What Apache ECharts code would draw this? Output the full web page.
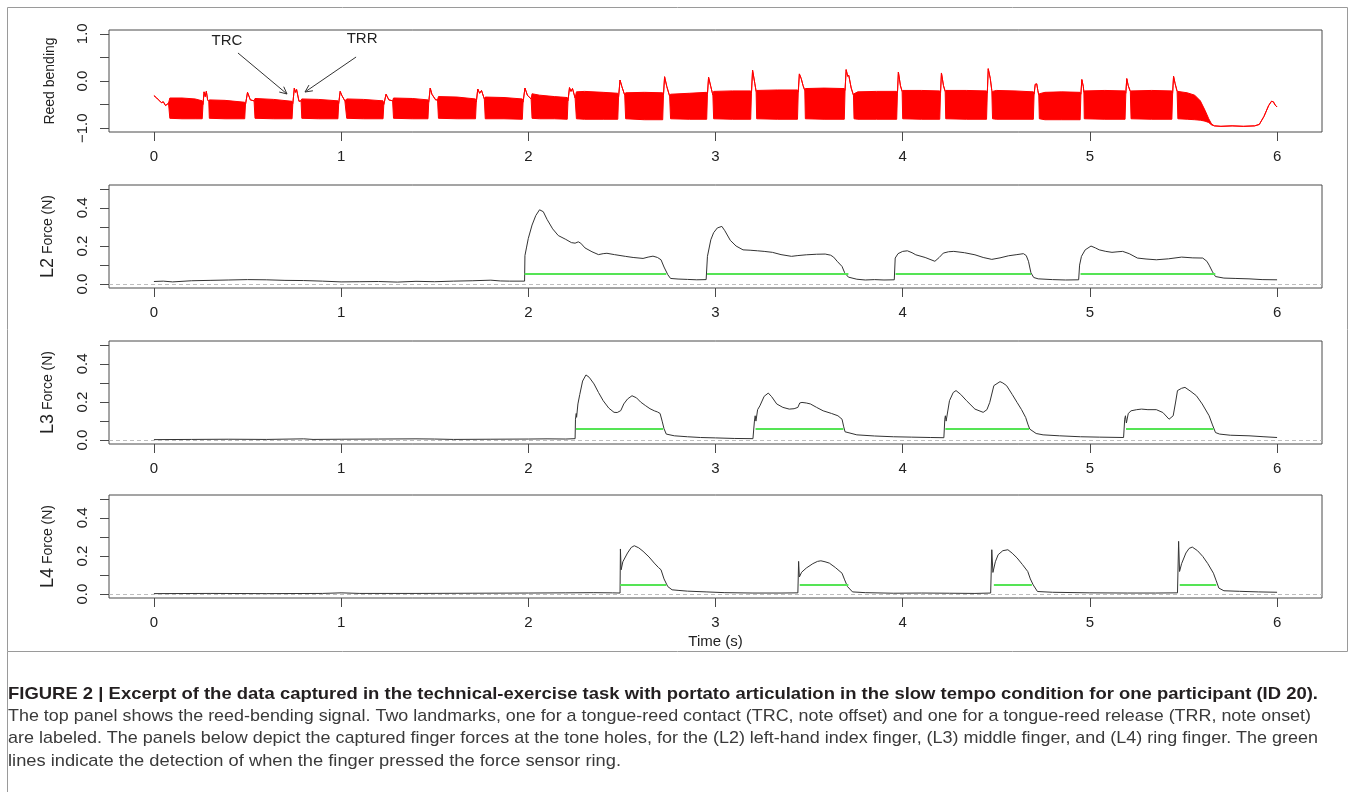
<!DOCTYPE html>
<html>
<head>
<meta charset="utf-8">
<script src="https://cdn.jsdelivr.net/npm/echarts@6/dist/echarts.min.js"></script>
<style>
html,body{margin:0;padding:0;background:#fff;}
#chart{width:1355px;height:792px;}
</style>
</head>
<body>
<div id="chart"></div>
<script>
// ---------------- DATA ----------------
const timeTicks = [0, 1, 2, 3, 4, 5, 6];
const reedTicks = [-1, -0.5, 0, 0.5, 1];
const reedLabels = [-1, 0, 1];
const forceTicks = [0, 0.1, 0.2, 0.3, 0.4, 0.5];
const forceLabels = [0, 0.2, 0.4];

// reed-bending envelope: [time, upper, lower]
const reedBand = [
[0.000,-0.31,-0.31],[0.015,-0.36,-0.36],[0.030,-0.42,-0.42],[0.040,-0.46,-0.46],[0.050,-0.44,-0.44],[0.062,-0.52,-0.52],[0.078,-0.47,-0.47],
[0.085,-0.36,-0.79],[0.150,-0.36,-0.80],[0.220,-0.38,-0.80],[0.258,-0.42,-0.80],
[0.262,-0.50,-0.50],[0.268,-0.23,-0.23],[0.274,-0.33,-0.33],[0.280,-0.22,-0.22],[0.287,-0.40,-0.40],[0.293,-0.43,-0.43],
[0.296,-0.40,-0.79],[0.380,-0.41,-0.80],[0.485,-0.45,-0.80],
[0.489,-0.50,-0.50],[0.500,-0.24,-0.24],[0.515,-0.40,-0.40],[0.535,-0.42,-0.42],
[0.540,-0.37,-0.79],[0.640,-0.39,-0.80],[0.738,-0.43,-0.80],
[0.742,-0.48,-0.48],[0.750,-0.15,-0.15],[0.756,-0.24,-0.24],[0.762,-0.18,-0.18],[0.775,-0.43,-0.43],[0.786,-0.42,-0.42],
[0.790,-0.38,-0.79],[0.880,-0.39,-0.80],[0.983,-0.42,-0.80],
[0.987,-0.48,-0.48],[0.995,-0.22,-0.22],[1.003,-0.30,-0.30],[1.020,-0.42,-0.42],
[1.030,-0.38,-0.79],[1.120,-0.39,-0.80],[1.224,-0.42,-0.80],
[1.228,-0.50,-0.50],[1.240,-0.28,-0.28],[1.255,-0.40,-0.40],[1.275,-0.42,-0.42],
[1.280,-0.36,-0.79],[1.380,-0.37,-0.80],[1.464,-0.40,-0.80],
[1.468,-0.45,-0.45],[1.476,-0.15,-0.15],[1.485,-0.28,-0.28],[1.505,-0.40,-0.40],[1.515,-0.40,-0.40],
[1.520,-0.33,-0.79],[1.620,-0.34,-0.80],[1.718,-0.38,-0.80],
[1.722,-0.45,-0.45],[1.730,-0.17,-0.17],[1.740,-0.26,-0.26],[1.750,-0.20,-0.20],[1.765,-0.38,-0.38],
[1.770,-0.34,-0.80],[1.870,-0.35,-0.80],[1.968,-0.38,-0.81],
[1.972,-0.45,-0.45],[1.982,-0.15,-0.15],[1.995,-0.30,-0.30],[2.015,-0.38,-0.38],
[2.020,-0.27,-0.79],[2.060,-0.30,-0.80],[2.140,-0.33,-0.80],[2.208,-0.35,-0.81],
[2.212,-0.42,-0.42],[2.220,-0.14,-0.14],[2.228,-0.22,-0.22],[2.236,-0.16,-0.16],[2.250,-0.36,-0.36],
[2.257,-0.23,-0.80],[2.300,-0.22,-0.81],[2.400,-0.24,-0.81],[2.478,-0.26,-0.81],
[2.482,-0.35,-0.35],[2.490,0.02,0.02],[2.500,-0.12,-0.12],[2.515,-0.30,-0.30],
[2.520,-0.25,-0.80],[2.620,-0.24,-0.82],[2.718,-0.25,-0.82],
[2.722,-0.30,-0.30],[2.728,0.09,0.09],[2.740,-0.12,-0.12],[2.755,-0.32,-0.32],
[2.760,-0.28,-0.80],[2.860,-0.26,-0.81],[2.953,-0.24,-0.81],
[2.957,-0.28,-0.28],[2.963,0.08,0.08],[2.975,-0.12,-0.12],[2.986,-0.30,-0.30],
[2.990,-0.22,-0.80],[3.090,-0.21,-0.81],[3.188,-0.21,-0.81],
[3.192,-0.26,-0.26],[3.198,0.23,0.23],[3.210,-0.05,-0.05],[3.217,-0.22,-0.22],
[3.220,-0.20,-0.80],[3.330,-0.19,-0.81],[3.438,-0.19,-0.81],
[3.442,-0.24,-0.24],[3.448,0.15,0.15],[3.458,0.05,0.05],[3.468,-0.10,-0.10],[3.477,-0.20,-0.20],
[3.480,-0.16,-0.80],[3.580,-0.15,-0.81],[3.688,-0.16,-0.81],
[3.692,-0.20,-0.20],[3.698,0.24,0.24],[3.706,0.10,0.10],[3.712,0.12,0.12],[3.725,-0.15,-0.15],[3.737,-0.30,-0.30],
[3.740,-0.27,-0.80],[3.760,-0.23,-0.81],[3.860,-0.22,-0.81],[3.968,-0.22,-0.81],
[3.972,-0.26,-0.26],[3.977,0.19,0.19],[3.988,-0.10,-0.10],[3.997,-0.22,-0.22],
[4.000,-0.20,-0.80],[4.100,-0.20,-0.81],[4.198,-0.21,-0.81],
[4.202,-0.26,-0.26],[4.207,0.17,0.17],[4.218,-0.10,-0.10],[4.227,-0.22,-0.22],
[4.230,-0.20,-0.80],[4.340,-0.20,-0.81],[4.448,-0.21,-0.81],
[4.452,-0.26,-0.26],[4.457,0.26,0.26],[4.468,0.05,0.05],[4.476,-0.20,-0.20],
[4.480,-0.22,-0.80],[4.500,-0.20,-0.81],[4.600,-0.21,-0.81],[4.698,-0.23,-0.81],
[4.702,-0.28,-0.28],[4.708,-0.07,-0.07],[4.716,-0.06,-0.06],[4.722,-0.20,-0.20],[4.727,-0.30,-0.30],
[4.730,-0.27,-0.80],[4.760,-0.24,-0.82],[4.850,-0.23,-0.82],[4.948,-0.24,-0.82],
[4.952,-0.28,-0.28],[4.957,0.03,0.03],[4.965,-0.12,-0.12],[4.968,-0.24,-0.24],
[4.970,-0.21,-0.80],[5.080,-0.20,-0.81],[5.188,-0.21,-0.81],
[5.192,-0.26,-0.26],[5.197,0.05,0.05],[5.205,-0.10,-0.10],[5.216,-0.22,-0.22],
[5.220,-0.21,-0.80],[5.330,-0.20,-0.81],[5.438,-0.21,-0.81],
[5.442,-0.26,-0.26],[5.447,0.10,0.10],[5.455,-0.05,-0.05],[5.466,-0.22,-0.22],
[5.470,-0.22,-0.80],[5.520,-0.25,-0.81],[5.560,-0.30,-0.82],[5.590,-0.42,-0.83],[5.615,-0.62,-0.85],[5.635,-0.80,-0.88],[5.650,-0.91,-0.93],
[5.665,-0.95,-0.95],[5.700,-0.96,-0.96],[5.760,-0.95,-0.95],[5.820,-0.96,-0.96],[5.880,-0.95,-0.95],[5.905,-0.92,-0.92],
[5.930,-0.75,-0.75],[5.955,-0.52,-0.52],[5.970,-0.43,-0.43],[5.980,-0.44,-0.44],[5.990,-0.51,-0.51],[6.000,-0.55,-0.55]
];

// L2 force [time, N]
const l2Force = [
[0,0.014],[0.05,0.016],[0.1,0.012],[0.2,0.018],[0.3,0.02],[0.4,0.022],[0.5,0.024],[0.6,0.023],[0.7,0.02],[0.8,0.019],[0.9,0.016],[1.0,0.012],[1.1,0.013],[1.2,0.014],[1.3,0.011],[1.4,0.015],[1.5,0.013],[1.6,0.016],[1.7,0.018],[1.8,0.021],[1.85,0.017],[1.9,0.016],[1.98,0.016],
[1.982,0.15],[1.99,0.19],[2.0,0.24],[2.02,0.31],[2.04,0.36],[2.06,0.39],[2.07,0.395],[2.08,0.38],[2.10,0.34],[2.13,0.29],[2.16,0.255],[2.2,0.235],[2.23,0.218],[2.25,0.215],[2.267,0.222],[2.28,0.215],[2.303,0.19],[2.34,0.17],[2.375,0.155],[2.4,0.16],[2.42,0.162],[2.46,0.155],[2.518,0.146],[2.56,0.14],[2.613,0.135],[2.64,0.142],[2.666,0.147],[2.69,0.14],[2.709,0.128],[2.725,0.09],[2.745,0.05],[2.76,0.03],[2.8,0.027],[2.85,0.025],[2.9,0.023],[2.95,0.024],
[2.957,0.146],[2.975,0.233],[2.99,0.27],[3.01,0.295],[3.034,0.303],[3.05,0.28],[3.079,0.23],[3.11,0.2],[3.147,0.18],[3.185,0.178],[3.225,0.175],[3.26,0.172],[3.304,0.167],[3.35,0.155],[3.406,0.146],[3.44,0.15],[3.485,0.154],[3.54,0.157],[3.586,0.158],[3.615,0.152],[3.631,0.142],[3.65,0.12],[3.676,0.093],[3.69,0.06],[3.71,0.037],[3.755,0.026],[3.8,0.022],[3.85,0.024],[3.9,0.022],[3.955,0.023],
[3.96,0.137],[3.975,0.16],[4.0,0.172],[4.025,0.175],[4.05,0.165],[4.07,0.154],[4.12,0.14],[4.172,0.12],[4.195,0.14],[4.217,0.163],[4.245,0.17],[4.273,0.172],[4.33,0.165],[4.386,0.154],[4.43,0.14],[4.476,0.13],[4.52,0.138],[4.566,0.149],[4.61,0.155],[4.645,0.16],[4.66,0.15],[4.672,0.12],[4.685,0.06],[4.7,0.035],[4.724,0.028],[4.8,0.024],[4.87,0.022],[4.94,0.023],
[4.945,0.1],[4.955,0.146],[4.975,0.18],[5.006,0.2],[5.03,0.19],[5.05,0.18],[5.085,0.172],[5.118,0.167],[5.15,0.17],[5.175,0.172],[5.21,0.16],[5.254,0.137],[5.3,0.132],[5.355,0.128],[5.42,0.133],[5.49,0.142],[5.55,0.138],[5.603,0.137],[5.625,0.12],[5.637,0.1],[5.655,0.065],[5.671,0.04],[5.716,0.032],[5.78,0.03],[5.85,0.028],[5.92,0.024],[6.0,0.023]
];
// L3 force
const l3Force = [
[0,0.003],[0.2,0.004],[0.4,0.005],[0.6,0.004],[0.8,0.007],[0.85,0.004],[1.0,0.005],[1.2,0.006],[1.4,0.007],[1.5,0.006],[1.6,0.004],[1.8,0.005],[2.0,0.006],[2.1,0.007],[2.2,0.006],[2.25,0.008],
[2.252,0.11],[2.256,0.14],[2.258,0.12],[2.265,0.19],[2.275,0.24],[2.29,0.31],[2.308,0.342],[2.325,0.33],[2.351,0.295],[2.375,0.25],[2.4,0.207],[2.43,0.168],[2.458,0.146],[2.475,0.145],[2.494,0.155],[2.51,0.19],[2.53,0.216],[2.554,0.233],[2.578,0.222],[2.6,0.2],[2.625,0.182],[2.65,0.165],[2.673,0.154],[2.69,0.148],[2.704,0.14],[2.715,0.1],[2.725,0.06],[2.737,0.032],[2.78,0.023],[2.85,0.018],[2.92,0.014],[3.0,0.012],[3.1,0.009],[3.2,0.008],
[3.208,0.1],[3.212,0.128],[3.216,0.1],[3.225,0.16],[3.237,0.18],[3.26,0.23],[3.282,0.247],[3.3,0.228],[3.327,0.19],[3.36,0.172],[3.394,0.163],[3.42,0.165],[3.44,0.172],[3.45,0.195],[3.462,0.198],[3.485,0.195],[3.507,0.19],[3.54,0.172],[3.575,0.154],[3.62,0.14],[3.654,0.128],[3.676,0.11],[3.685,0.07],[3.692,0.044],[3.755,0.028],[3.85,0.022],[3.95,0.018],[4.048,0.016],[4.15,0.014],[4.22,0.013],
[4.225,0.11],[4.228,0.128],[4.232,0.1],[4.25,0.207],[4.27,0.25],[4.285,0.26],[4.31,0.24],[4.341,0.207],[4.386,0.163],[4.43,0.146],[4.45,0.16],[4.465,0.198],[4.487,0.286],[4.52,0.307],[4.535,0.3],[4.555,0.286],[4.585,0.24],[4.611,0.198],[4.635,0.16],[4.657,0.119],[4.67,0.08],[4.679,0.058],[4.713,0.035],[4.75,0.028],[4.837,0.023],[4.95,0.018],[5.05,0.016],[5.18,0.014],
[5.186,0.11],[5.19,0.128],[5.195,0.09],[5.205,0.14],[5.22,0.154],[5.25,0.16],[5.276,0.163],[5.31,0.16],[5.355,0.16],[5.39,0.145],[5.423,0.11],[5.445,0.128],[5.458,0.2],[5.468,0.26],[5.49,0.272],[5.508,0.277],[5.54,0.255],[5.569,0.233],[5.6,0.19],[5.637,0.128],[5.655,0.08],[5.671,0.04],[5.693,0.032],[5.75,0.026],[5.85,0.023],[5.93,0.018],[6.0,0.014]
];
// L4 force
const l4Force = [
[0,0.003],[0.3,0.004],[0.6,0.003],[0.9,0.004],[1.0,0.007],[1.1,0.004],[1.4,0.004],[1.7,0.005],[2.0,0.006],[2.2,0.007],[2.35,0.008],[2.45,0.007],[2.49,0.006],
[2.492,0.237],[2.496,0.128],[2.505,0.17],[2.53,0.216],[2.55,0.245],[2.566,0.254],[2.59,0.243],[2.613,0.225],[2.645,0.195],[2.673,0.163],[2.695,0.14],[2.709,0.128],[2.725,0.08],[2.745,0.04],[2.768,0.023],[2.8,0.02],[2.85,0.016],[2.95,0.012],[3.05,0.008],[3.2,0.006],[3.35,0.006],[3.44,0.007],
[3.444,0.172],[3.448,0.09],[3.46,0.115],[3.485,0.137],[3.52,0.16],[3.545,0.172],[3.563,0.175],[3.585,0.17],[3.608,0.163],[3.64,0.14],[3.676,0.11],[3.69,0.075],[3.705,0.04],[3.732,0.012],[3.8,0.008],[3.95,0.005],[4.1,0.006],[4.25,0.005],[4.386,0.004],[4.47,0.006],
[4.476,0.233],[4.482,0.114],[4.495,0.17],[4.51,0.207],[4.535,0.228],[4.562,0.233],[4.585,0.215],[4.611,0.19],[4.64,0.155],[4.668,0.119],[4.682,0.08],[4.697,0.049],[4.72,0.014],[4.8,0.01],[5.0,0.007],[5.2,0.006],[5.35,0.006],[5.468,0.007],
[5.474,0.277],[5.479,0.119],[5.49,0.16],[5.513,0.216],[5.53,0.24],[5.547,0.247],[5.575,0.228],[5.603,0.198],[5.63,0.16],[5.66,0.11],[5.675,0.07],[5.689,0.032],[5.716,0.018],[5.8,0.015],[5.9,0.012],[6.0,0.01]
];
// press detection segments [start, end, level]
const l2Press = [[1.98,2.737,0.055],[2.955,3.71,0.053],[3.962,4.686,0.055],[4.95,5.67,0.055]];
const l3Press = [[2.255,2.72,0.058],[3.214,3.683,0.058],[4.228,4.675,0.061],[5.193,5.66,0.058]];
const l4Press = [[2.49,2.737,0.05],[3.45,3.71,0.05],[4.487,4.69,0.048],[5.48,5.675,0.05]];

// annotations (data coords of the top panel)
const annLabels = [['TRC',0.39,0.853],['TRR',1.112,0.89]];
const annArrows = [[0.449,0.593,0.711,-0.275],[1.08,0.508,0.807,-0.233]];

const yNames = ['Reed bending','{b|L2} {s|Force (N)}','{b|L3} {s|Force (N)}','{b|L4} {s|Force (N)}'];
const captionLines = [
 'FIGURE 2 | Excerpt of the data captured in the technical-exercise task with portato articulation in the slow tempo condition for one participant (ID 20).',
 'The top panel shows the reed-bending signal. Two landmarks, one for a tongue-reed contact (TRC, note offset) and one for a tongue-reed release (TRR, note onset)',
 'are labeled. The panels below depict the captured finger forces at the tone holes, for the (L2) left-hand index finger, (L3) middle finger, and (L4) ring finger. The green',
 'lines indicate the detection of when the finger pressed the force sensor ring.'
];

// ---------------- LAYOUT / STYLE ----------------
const NARROW = "'Liberation Sans Narrow','Liberation Sans',Arial,sans-serif";
const SANS = "'Liberation Sans',Arial,sans-serif";
const BOX = '#4a4a4a';
const gridTops = [30, 185, 341, 495];
const gridHeights = [102, 103, 103, 103];

const chart = echarts.init(document.getElementById('chart'), null, {renderer:'canvas'});

const grids = gridTops.map((t,i)=>({left:109, top:t, width:1213, height:gridHeights[i], show:true, borderColor:BOX, borderWidth:1, backgroundColor:'transparent'}));

const fmt1 = v => (v < 0 ? '\u2212' : '') + Math.abs(v).toFixed(1);

const xAxes = grids.map((g,i)=>({
  type:'value', gridIndex:i, min:-0.24, max:6.24, position:'bottom',
  axisLine:{show:false, onZero:false},
  axisTick:{show:true, length:9, customValues:timeTicks, lineStyle:{color:BOX, width:1}},
  axisLabel:{customValues:timeTicks, formatter:v=>String(Math.round(v)), fontFamily:NARROW, fontSize:15, color:'#222', margin:17},
  splitLine:{show:false},
  name: i===3 ? 'Time (s)' : '', nameLocation:'middle', nameGap:36,
  nameTextStyle:{fontFamily:NARROW, fontSize:15, color:'#222'}
}));

const yAxes = grids.map((g,i)=>({
  type:'value', gridIndex:i, position:'left',
  min: i===0 ? -1.08 : -0.02, max: i===0 ? 1.08 : 0.52,
  axisLine:{show:false, onZero:false},
  axisTick:{show:true, length:9, customValues: i===0 ? reedTicks : forceTicks, lineStyle:{color:BOX, width:1}},
  axisLabel:{customValues: i===0 ? reedLabels : forceLabels, formatter:fmt1, rotate:90, fontFamily:NARROW, fontSize:15, color:'#222', margin:19},
  splitLine:{show:false},
  name: yNames[i], nameLocation:'middle', nameGap:52,
  nameTextStyle:{fontFamily:SANS, fontSize:14, color:'#222',
    rich:{b:{fontFamily:SANS, fontSize:18, color:'#222'}, s:{fontFamily:SANS, fontSize:14, color:'#222'}}}
}));

const series = [];
// reed band
series.push({
  type:'custom', xAxisIndex:0, yAxisIndex:0, data:[[0,0]], silent:true, z:2,
  renderItem:function(params, api){
    const up = reedBand.map(r=>api.coord([r[0], r[1]]));
    const lo = reedBand.map(r=>api.coord([r[0], r[2]])).reverse();
    return {type:'polygon', shape:{points:up.concat(lo)}, style:{fill:'#ff0000', stroke:'#ff0000', lineWidth:1}};
  }
});
// annotations
series.push({
  type:'custom', xAxisIndex:0, yAxisIndex:0, data:[[0,0]], silent:true, z:5,
  renderItem:function(params, api){
    const children = [];
    annArrows.forEach(a=>{
      const p0 = api.coord([a[0],a[1]]), p1 = api.coord([a[2],a[3]]);
      const ang = Math.atan2(p1[1]-p0[1], p1[0]-p0[0]);
      const L = 8, w = Math.PI/7;
      const h1 = [p1[0]-L*Math.cos(ang-w), p1[1]-L*Math.sin(ang-w)];
      const h2 = [p1[0]-L*Math.cos(ang+w), p1[1]-L*Math.sin(ang+w)];
      children.push({type:'line', shape:{x1:p0[0],y1:p0[1],x2:p1[0],y2:p1[1]}, style:{stroke:'#333', lineWidth:1}});
      children.push({type:'polyline', shape:{points:[h1,p1,h2]}, style:{stroke:'#333', lineWidth:1, fill:null}});
    });
    annLabels.forEach(l=>{
      const p = api.coord([l[1], l[2]]);
      children.push({type:'text', x:p[0], y:p[1], style:{text:l[0], fontFamily:SANS, fontSize:15, fill:'#222', align:'center', verticalAlign:'middle'}});
    });
    return {type:'group', children};
  }
});

const forces = [l2Force, l3Force, l4Force];
const presses = [l2Press, l3Press, l4Press];
forces.forEach((f,k)=>{
  const gi = k+1;
  series.push({
    type:'line', xAxisIndex:gi, yAxisIndex:gi, data:f, showSymbol:false, symbol:'none',
    lineStyle:{color:'#333', width:1}, z:3, silent:true,
    markLine:{
      silent:true, symbol:['none','none'], animation:false,
      label:{show:false},
      data:[{yAxis:0, lineStyle:{color:'#bdbdbd', type:[4,3], width:1}}].concat(
        presses[k].map(p=>[{coord:[p[0],p[2]], lineStyle:{color:'#55e455', width:2, type:'solid'}},{coord:[p[1],p[2]]}])
      )
    }
  });
});

// caption & frame graphics
const ctx = document.createElement('canvas').getContext('2d');
const capTargets = [1310, 1303, 1310, 613];
const capY = [694, 716, 738, 761];
const CAP_SIZE = 17;
const capGraphics = captionLines.map((txt,i)=>{
  const bold = i===0;
  ctx.font = (bold?'bold ':'') + CAP_SIZE + 'px ' + SANS;
  const w = ctx.measureText(txt).width;
  return {type:'text', x:8, y:capY[i], scaleX: capTargets[i]/w, silent:true,
    style:{text:txt, fontFamily:SANS, fontSize:CAP_SIZE, fontWeight: bold?'bold':'normal', fill: bold?'#231f20':'#3a3a3a', verticalAlign:'middle'}};
});
const frame = [
  {type:'rect', shape:{x:7.5, y:7.5, width:1340, height:644}, style:{fill:null, stroke:'#9a9a9a', lineWidth:1}, silent:true},
  {type:'line', shape:{x1:7.5, y1:651.5, x2:7.5, y2:792}, style:{stroke:'#9a9a9a', lineWidth:1}, silent:true}
];

chart.setOption({
  animation:false,
  backgroundColor:'#ffffff',
  grid:grids, xAxis:xAxes, yAxis:yAxes, series:series,
  graphic: frame.concat(capGraphics)
});
</script>
</body>
</html>
